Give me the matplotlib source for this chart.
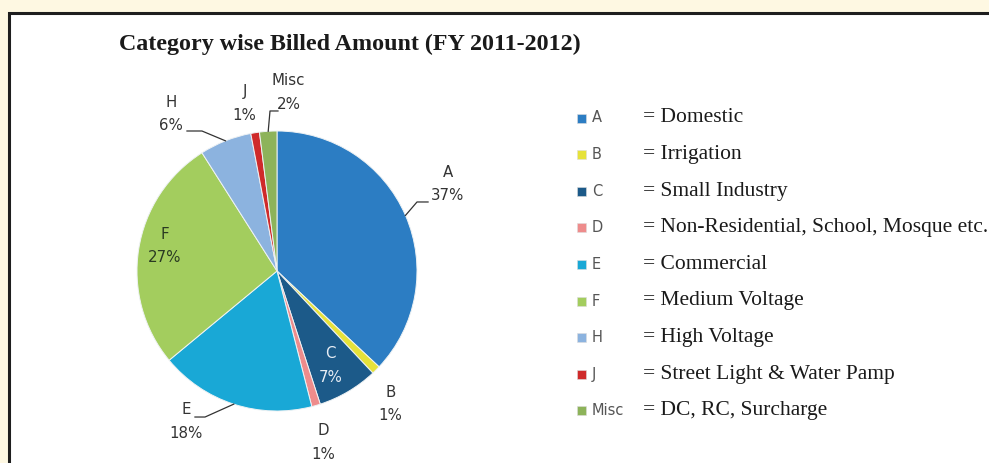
import numpy as np
import matplotlib
matplotlib.use("Agg")
import matplotlib.pyplot as plt
from matplotlib.patches import Rectangle

# data
categories = ["A", "B", "C", "D", "E", "F", "H", "J", "Misc"]
shares = [37, 1, 7, 1, 18, 27, 6, 1, 2]
descriptions = ["Domestic", "Irrigation", "Small Industry",
                "Non-Residential, School, Mosque etc.", "Commercial",
                "Medium Voltage", "High Voltage", "Street Light & Water Pamp",
                "DC, RC, Surcharge"]
title = "Category wise Billed Amount (FY 2011-2012)"

colors = ["#2c7dc3", "#e6e23a", "#1c5a89", "#ee8c8c", "#19a8d6",
          "#a3cd5e", "#8cb3df", "#cf2a2a", "#8db35a"]

W, H = 989, 463
fig = plt.figure(figsize=(W / 100, H / 100), dpi=100, facecolor="#fef8e2")

def fx(x):
    return x / W

def fy(y):
    return 1 - y / H

# white panel with dark frame
fig.patches.append(Rectangle((fx(9), fy(H + 20)), 1.2, (H + 20 - 13) / H,
                             transform=fig.transFigure, facecolor="white",
                             edgecolor="#1e1e1e", linewidth=2.2, zorder=-5))

fig.text(fx(119), fy(44), title, family="Liberation Serif", weight="bold",
         fontsize=17.3, color="#1a1a1a", va="center", ha="left")

# pie, centre (277, 271) px, radius 140 px
cx, cy, R, k = 277, 271, 140, 1.6
ax = fig.add_axes([fx(cx - k * R), fy(cy + k * R), 2 * k * R / W, 2 * k * R / H])
ax.set_zorder(2)
ax.patch.set_visible(False)
wedges, _ = ax.pie(shares, colors=colors, startangle=90, counterclock=False,
                   radius=1, wedgeprops=dict(edgecolor="#eef2f4", linewidth=0.7))
ax.set_xlim(-k, k)
ax.set_ylim(-k, k)
ax.axis("off")

# label positions (pie radius units)
label_xy = [(1.22, 0.62), (0.81, -0.95), (0.38, -0.675), (0.33, -1.225),
            (-0.65, -1.075), (-0.80, 0.18), (-0.757, 1.12), (-0.232, 1.196),
            (0.082, 1.275)]
label_col = ["#333333"] * 9
label_col[2] = "#e8eef5"
label_col[5] = "#2a3a22"
for i, (lx, ly) in enumerate(label_xy):
    ax.text(lx, ly, f"{categories[i]}\n{shares[i]}%", ha="center", va="center",
            fontsize=10.8, color=label_col[i], linespacing=1.7)

# leader lines: text end -> elbow -> wedge edge
leaders = {0: [(1.079, 0.493), (1.0, 0.493)],
           4: [(-0.586, -1.043), (-0.514, -1.043)],
           6: [(-0.643, 1.0), (-0.536, 1.0)],
           8: [(0.007, 1.143), (-0.05, 1.143)]}
for i, pts in leaders.items():
    w = wedges[i]
    mid = np.deg2rad((w.theta1 + w.theta2) / 2)
    xs = [p[0] for p in pts] + [np.cos(mid)]
    ys = [p[1] for p in pts] + [np.sin(mid)]
    ax.plot(xs, ys, color="#333333", lw=0.9)

# legend on the right
for i, cat in enumerate(categories):
    y = 118 + i * 36.6
    fig.patches.append(Rectangle((fx(577), fy(y + 4.5)), 9 / W, 9 / H,
                                 transform=fig.transFigure,
                                 facecolor=colors[i], edgecolor="#dddddd",
                                 linewidth=0.4))
    fig.text(fx(592), fy(y), cat, fontsize=10.5, color="#555555",
             va="center", ha="left")
    fig.text(fx(643), fy(y), "= " + descriptions[i], family="Liberation Serif",
             fontsize=15.5, color="#1a1a1a", va="center", ha="left")

fig.savefig("out.png", dpi=100, facecolor=fig.get_facecolor())
